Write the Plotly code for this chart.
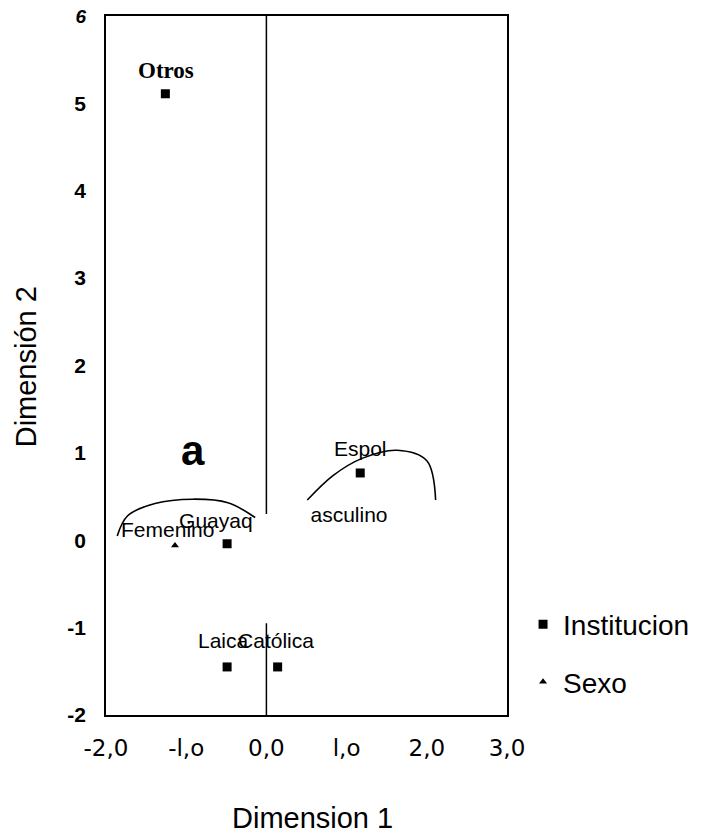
import plotly.graph_objects as go

# Punto de cada categoria (coordenadas)
inst_names = ["Otros", "Guayaquil", "Espol", "Laica", "Católica"]
inst_x = [-1.26, -0.49, 1.17, -0.49, 0.14]
inst_y = [5.11, -0.04, 0.77, -1.45, -1.45]

sexo_names = ["Femenino"]
sexo_x = [-1.14]
sexo_y = [-0.06]

# Etiquetas de texto tal como se ven en el original
label_text = ["Guayaq", "Femenino", "Espol", "asculino", "Laica", "Católica"]
label_x = [-0.63, -1.23, 1.17, 1.03, -0.54, 0.12]
label_y = [0.20, 0.10, 1.03, 0.27, -1.17, -1.17]

# Arcos dibujados a mano en la figura
arc1_x = [-1.86, -1.73, -1.39, -0.92, -0.48, -0.14]
arc1_y = [0.05, 0.28, 0.42, 0.47, 0.43, 0.26]
arc2_x = [0.51, 0.83, 1.20, 1.63, 2.00, 2.11]
arc2_y = [0.46, 0.74, 0.94, 1.03, 0.91, 0.46]

x_ticks = [-2, -1, 0, 1, 2, 3]
x_ticktext = ["-2,0", "-l,o", "0,0", "l,o", "2,0", "3,0"]
y_ticks = [6, 5, 4, 3, 2, 1, 0, -1, -2]
y_ticktext = ["<b><i><span style='font-size:19px'>6</span></i></b>", "5", "4", "3", "2", "1", "0", "-1", "-2"]

fig = go.Figure()

for ax, ay in [(arc1_x, arc1_y), (arc2_x, arc2_y)]:
    fig.add_trace(go.Scatter(x=ax, y=ay, mode="lines", line=dict(color="black", width=1.6, shape="spline"),
                             showlegend=False, hoverinfo="skip"))

fig.add_trace(go.Scatter(x=inst_x, y=inst_y, mode="markers", name="Institucion", legendgroup="i",
                         marker=dict(symbol="square", size=9, color="black"), text=inst_names))
fig.add_trace(go.Scatter(x=sexo_x, y=sexo_y, mode="markers", name="Sexo", legendgroup="s",
                         marker=dict(symbol="triangle-up", size=7, color="black"), text=sexo_names))

fig.add_trace(go.Scatter(x=label_x, y=label_y, mode="text", text=label_text, showlegend=False,
                         textfont=dict(family="Arial", size=21, color="black"), hoverinfo="skip"))

# "Otros" va en negrita con letra serif
fig.add_annotation(x=-1.25, y=5.38, text="<b>Otros</b>", showarrow=False,
                   font=dict(family="Liberation Serif", size=23, color="black"))
fig.add_annotation(x=-0.92, y=1.03, text="<b>a</b>", showarrow=False,
                   font=dict(family="Arial", size=42, color="black"))

# titulos de ejes como anotaciones
fig.add_annotation(x=0.516, y=-0.147, xref="paper", yref="paper", text="Dimension 1", showarrow=False,
                   xanchor="center", yanchor="middle", font=dict(family="Arial", size=29, color="black"))
fig.add_annotation(x=-0.201, y=0.498, xref="paper", yref="paper", text="Dimensión 2", showarrow=False,
                   xanchor="center", yanchor="middle", textangle=-90,
                   font=dict(family="Arial", size=29, color="black"))

# Eje vertical en x = 0 (dos tramos)
fig.add_shape(type="line", x0=0, x1=0, y0=6, y1=0.30, line=dict(color="black", width=1.5))
fig.add_shape(type="line", x0=0, x1=0, y0=-0.95, y1=-2, line=dict(color="black", width=1.5))

fig.update_layout(
    width=695, height=828,
    margin=dict(l=98, r=196, t=8, b=121),
    plot_bgcolor="white", paper_bgcolor="white",
    font=dict(family="Arial", color="black"),
    legend=dict(x=1.04, y=0.165, xanchor="left", yanchor="top", tracegroupgap=18,
                font=dict(family="Arial", size=28, color="black"), itemwidth=30),
)

fig.update_xaxes(range=[-2, 3], tickvals=x_ticks, ticktext=x_ticktext, showgrid=False, zeroline=False,
                 showline=True, mirror=True, linecolor="black", linewidth=1.5, ticks="", automargin=False,
                 tickfont=dict(family="DejaVu Sans", size=23, color="black"), ticklabelstandoff=12)
fig.update_yaxes(range=[-2, 6], tickvals=y_ticks, ticktext=y_ticktext, showgrid=False, zeroline=False,
                 showline=True, mirror=True, linecolor="black", linewidth=1.5, ticks="", automargin=False,
                 ticklabeloverflow="allow",
                 tickfont=dict(family="Arial", size=21, color="black", weight="bold"), ticklabelstandoff=14)

fig.write_html("out.html")
